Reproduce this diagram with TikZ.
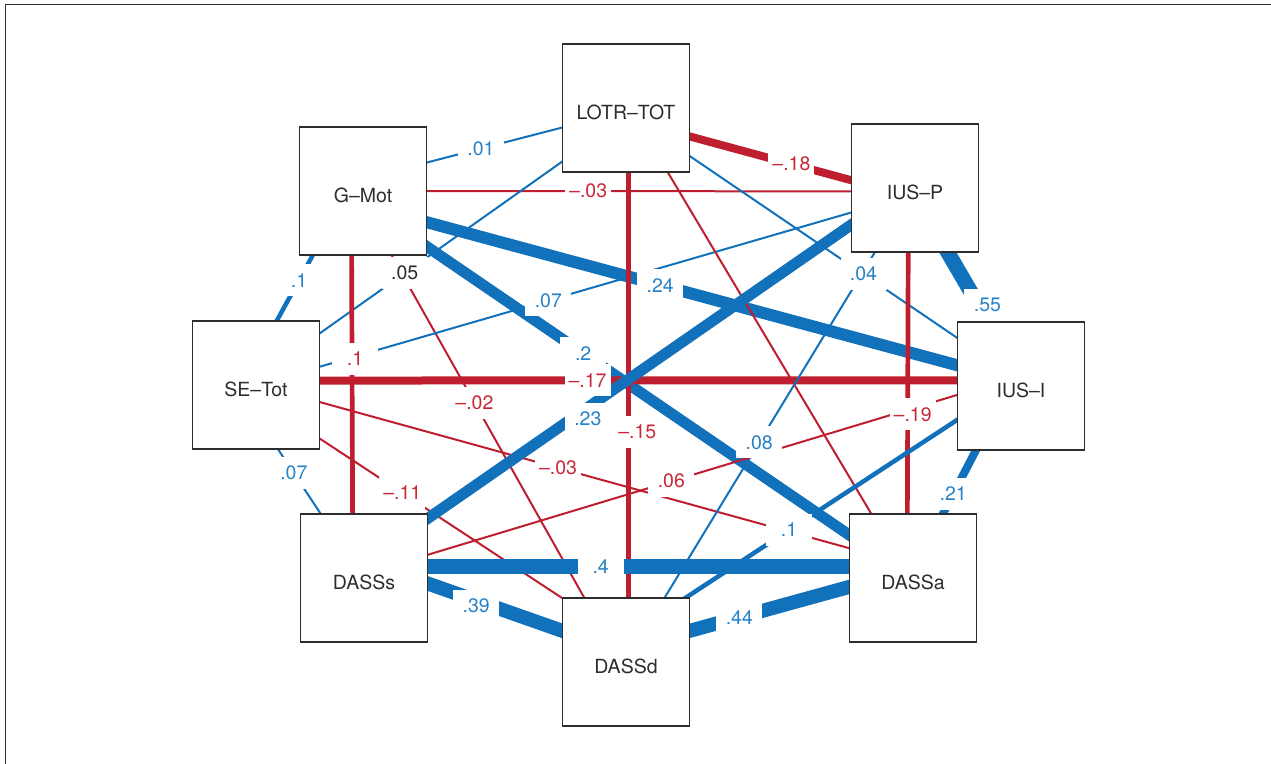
\documentclass[tikz,border=0pt]{standalone}
\usepackage{fontspec}
\setmainfont{TeX Gyre Heros}
\usepackage{xcolor}
\usetikzlibrary{backgrounds}
\definecolor{poscol}{RGB}{18,113,187}
\definecolor{negcol}{RGB}{190,30,45}
\definecolor{postxt}{RGB}{40,130,200}
\definecolor{negtxt}{RGB}{200,40,55}
\definecolor{boxcol}{RGB}{45,45,45}
% one partial correlation: sign, width, from, to, label options, label, name
\newcommand{\corr}[7]{%
  \begin{pgfonlayer}{background}
    \draw[#1, line width=#2pt] (#3) -- (#4);
  \end{pgfonlayer}
  \path (#3) -- node[lbl, #1 txt, #5] (#7) {#6} (#4);
}

\begin{document}
\begin{tikzpicture}[x=1pt, y=-1pt,
  var/.style={draw=boxcol, line width=1.3pt, fill=white, text=boxcol,
    minimum width=127pt, minimum height=128pt, inner sep=0pt,
    text height=22pt, text depth=0pt, font=\fontsize{19.5}{22}\selectfont},
  lbl/.style={fill=white, minimum width=46pt, minimum height=32pt,
    inner sep=0pt, font=\fontsize{19.5}{22}\selectfont},
  plus/.style={draw=poscol, shorten <=-4pt, shorten >=-4pt},
  minus/.style={draw=negcol, shorten <=-4pt, shorten >=-4pt},
  plus txt/.style={text=postxt},
  minus txt/.style={text=negtxt},
  panel/.style={draw=boxcol, line width=1.3pt}
]
  \useasboundingbox (0,0) rectangle (1271,763);
  \draw[panel] (5.3,4.7) rectangle (1290,780);

  \node[var] (L) at (626,108) {LOTR–TOT};
  \node[var] (G) at (363,191) {G–Mot};
  \node[var] (P) at (915,188) {IUS–P};
  \node[var] (S) at (256,385) {SE–Tot};
  \node[var] (I) at (1021,386) {IUS–I};
  \node[var] (Ds) at (364,578) {DASSs};
  \node[var] (Da) at (913,578) {DASSa};
  \node[var] (Dd) at (626,662) {DASSd};

  \corr{plus}{2}{G.24}{L.-163}{pos=.40}{.01}{w01}
  \corr{minus}{8}{L.-24}{P.173}{pos=.63}{–.18}{w02}
  \corr{minus}{2}{G.0}{P.183}{pos=.38}{–.03}{w03}
  \corr{plus}{2}{L.-140}{S.39}{pos=.65, text=boxcol}{.05}{w04}
  \corr{plus}{4.5}{G.-128}{S.72}{pos=.38}{.1}{w05}
  \corr{minus}{4.7}{G.-100}{Ds.100}{pos=.40, xshift=3pt}{.1}{w06}
  \corr{minus}{2}{G.-66}{Dd.123}{pos=.43}{–.02}{w07}
  \corr{plus}{11}{G.-41}{Da.146}{pos=.37}{.2}{w08}
  \corr{plus}{12}{G.-26}{I.162}{pos=.44}{.24}{w09}
  \corr{plus}{2}{S.16}{P.-159}{pos=.43}{.07}{w10}
  \corr{minus}{8}{S.4}{I.175}{pos=.42}{–.17}{w11}
  \corr{minus}{2}{S.-15}{Da.155}{pos=.45}{–.03}{w12}
  \corr{minus}{2}{S.-40}{Dd.135}{pos=.34}{–.11}{w13}
  \corr{plus}{2}{S.-71}{Ds.124}{pos=.37}{.07}{w14}
  \corr{minus}{4.7}{L.-88}{Dd.88}{pos=.61, xshift=9pt}{–.15}{w15}
  \begin{pgfonlayer}{background}
    \draw[minus, line width=2pt] (L.-57) -- (Da.123);
  \end{pgfonlayer}
  \corr{plus}{2}{L.-37}{I.143}{pos=.65}{.04}{w17}
  \corr{plus}{11}{P.-150}{Ds.43}{pos=.66, xshift=16pt}{.23}{w18}
  \corr{plus}{15}{P.-63}{I.117}{pos=.76, xshift=9pt}{.55}{w19}
  \corr{minus}{4.7}{P.-96}{Da.95}{pos=.62, xshift=5pt}{–.19}{w20}
  \corr{plus}{2}{P.-122}{Dd.59}{pos=.55}{.08}{w21}
  \corr{minus}{2}{I.-172}{Ds.20}{pos=.54}{.06}{w22}
  \corr{plus}{4.5}{I.-152}{Dd.47}{pos=.62}{.1}{w23}
  \corr{plus}{8}{I.-125}{Da.65}{pos=.69}{.21}{w24}
  \corr{plus}{15}{Ds.10}{Da.170}{pos=.41}{.4}{w25}
  \corr{plus}{14}{Ds.-5}{Dd.154}{pos=.36, yshift=-5pt}{.39}{w26}
  \corr{plus}{14}{Da.188}{Dd.26}{pos=.69}{.44}{w27}
\end{tikzpicture}
\end{document}
